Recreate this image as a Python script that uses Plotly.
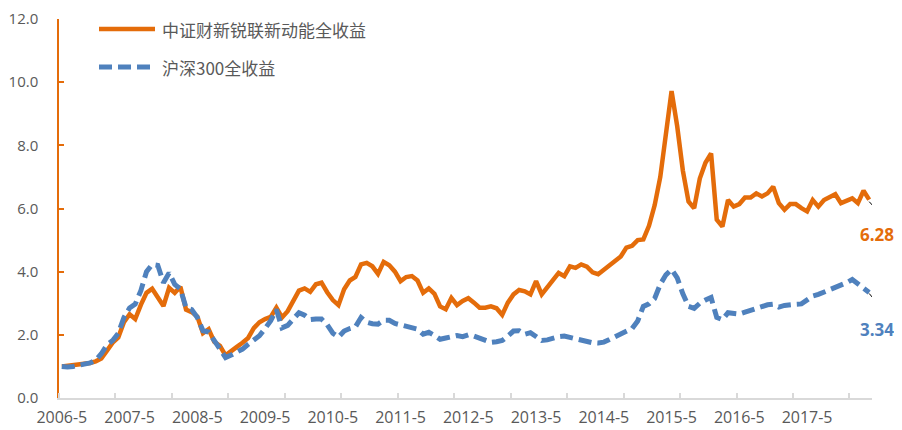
import plotly.graph_objects as go

# ---------------- data ----------------
months = [f"{2006 + (4 + k) // 12}-{(4 + k) % 12 + 1}" for k in range(144)]  # 2006-5 ... 2018-4

tick_labels = ["2006-5", "2007-5", "2008-5", "2009-5", "2010-5", "2011-5",
               "2012-5", "2013-5", "2014-5", "2015-5", "2016-5", "2017-5"]

series_names = ["中证财新锐联新动能全收益", "沪深300全收益"]

new_energy = [
    1.00, 1.02, 1.04, 1.06, 1.08, 1.11, 1.16, 1.25, 1.50, 1.75,
    1.92, 2.40, 2.65, 2.50, 2.95, 3.33, 3.46, 3.20, 2.91, 3.49,
    3.33, 3.52, 2.80, 2.72, 2.58, 2.05, 2.18, 1.78, 1.65, 1.35,
    1.50, 1.62, 1.75, 1.90, 2.21, 2.40, 2.50, 2.57, 2.86, 2.55,
    2.75, 3.05, 3.40, 3.47, 3.36, 3.60, 3.65, 3.35, 3.10, 2.94,
    3.44, 3.72, 3.83, 4.23, 4.28, 4.17, 3.93, 4.31, 4.20, 4.00,
    3.70, 3.83, 3.86, 3.72, 3.33, 3.47, 3.30, 2.90, 2.81, 3.17,
    2.94, 3.07, 3.16, 3.02, 2.86, 2.86, 2.90, 2.84, 2.63, 3.02,
    3.28, 3.42, 3.38, 3.28, 3.70, 3.28, 3.50, 3.72, 3.96, 3.86,
    4.17, 4.12, 4.23, 4.16, 3.98, 3.92, 4.05, 4.20, 4.35, 4.48,
    4.76, 4.82, 5.00, 5.02, 5.45, 6.10, 7.00, 8.50, 9.72, 8.60,
    7.20, 6.22, 6.01, 6.95, 7.45, 7.74, 5.65, 5.43, 6.27, 6.06,
    6.14, 6.35, 6.35, 6.48, 6.38, 6.48, 6.69, 6.17, 5.96, 6.14,
    6.14, 6.01, 5.91, 6.27, 6.06, 6.27, 6.38, 6.45, 6.17, 6.25,
    6.32, 6.17, 6.56, 6.28,
]

csi300 = [
    1.00, 0.98, 1.00, 1.04, 1.07, 1.11, 1.20, 1.40, 1.68, 1.82,
    2.05, 2.55, 2.85, 2.97, 3.40, 4.00, 4.23, 4.20, 3.65, 3.96,
    3.60, 3.45, 2.86, 2.80, 2.55, 2.13, 2.09, 1.80, 1.55, 1.28,
    1.36, 1.45, 1.55, 1.70, 1.86, 1.97, 2.20, 2.45, 2.80, 2.22,
    2.30, 2.49, 2.70, 2.62, 2.48, 2.50, 2.50, 2.32, 2.05, 1.93,
    2.12, 2.20, 2.25, 2.55, 2.40, 2.35, 2.34, 2.46, 2.46, 2.36,
    2.32, 2.28, 2.22, 2.18, 2.02, 2.08, 1.98, 1.86, 1.90, 1.96,
    1.98, 1.94, 2.00, 1.96, 1.88, 1.80, 1.76, 1.78, 1.82, 1.96,
    2.12, 2.13, 2.02, 2.07, 1.95, 1.82, 1.84, 1.90, 1.94, 1.96,
    1.92, 1.85, 1.80, 1.77, 1.75, 1.74, 1.77, 1.85, 1.94, 2.00,
    2.08, 2.20, 2.44, 2.90, 2.98, 3.15, 3.60, 3.90, 4.07, 3.80,
    3.30, 2.90, 2.84, 3.00, 3.10, 3.18, 2.55, 2.48, 2.70, 2.67,
    2.66, 2.72, 2.78, 2.82, 2.88, 2.95, 2.97, 2.88, 2.93, 2.96,
    2.97, 2.98, 3.10, 3.23, 3.28, 3.35, 3.41, 3.50, 3.57, 3.65,
    3.75, 3.62, 3.50, 3.34,
]

y_ticks = [0, 2, 4, 6, 8, 10, 12]

# ---------------- styling ----------------
ORANGE = "#E46C0A"
BLUE = "#4F81BD"
GRAY = "#595959"
BLUE_DASH = "13px,6px"

x_idx = list(range(len(months)))
tick_pos = [months.index(t) for t in tick_labels]
minor_pos = [p - 0.5 for p in range(0, len(months), 10)]
last = len(months) - 1

fig = go.Figure()
fig.add_trace(go.Scatter(x=x_idx, y=new_energy, mode="lines", name=series_names[0],
                         line=dict(color=ORANGE, width=4.5), hoverinfo="x+y"))
fig.add_trace(go.Scatter(x=x_idx, y=csi300, mode="lines", name=series_names[1],
                         line=dict(color=BLUE, width=5, dash=BLUE_DASH)))

# the page body adds an 8px offset; figure sized to fit inside the window
OFF = 8
W, H = 902 - OFF, 430 - OFF
L, T = 59 - OFF, 19 - OFF
PW, PH = 813, 379
R, B = W - L - PW, H - T - PH


def px(xp):
    return (xp - OFF - L) / PW


def py(yp):
    return (T + PH - (yp - OFF)) / PH


shapes = [
    # legend samples
    dict(type="line", xref="paper", yref="paper", x0=px(99), x1=px(155), y0=py(29), y1=py(29),
         line=dict(color=ORANGE, width=4.5)),
    dict(type="line", xref="paper", yref="paper", x0=px(99), x1=px(155), y0=py(67), y1=py(67),
         line=dict(color=BLUE, width=5, dash=BLUE_DASH)),
    # leader lines to end labels
    dict(type="line", xref="x", yref="y", xsizemode="pixel", ysizemode="pixel",
         xanchor=last, yanchor=new_energy[-1], x0=0, x1=12, y0=-2, y1=-15,
         line=dict(color="black", width=1)),
    dict(type="line", xref="x", yref="y", xsizemode="pixel", ysizemode="pixel",
         xanchor=last, yanchor=csi300[-1], x0=0, x1=11, y0=-1, y1=-14,
         line=dict(color="black", width=1)),
]

annotations = [
    dict(xref="paper", yref="paper", x=px(160), y=py(29), xanchor="left", yanchor="middle",
         text=series_names[0], showarrow=False,
         font=dict(size=17, color=GRAY, family="Noto Sans CJK SC")),
    dict(xref="paper", yref="paper", x=px(160), y=py(67), xanchor="left", yanchor="middle",
         text=series_names[1], showarrow=False,
         font=dict(size=17, color=GRAY, family="Noto Sans CJK SC")),
    dict(xref="x", yref="y", x=last, y=new_energy[-1], xshift=8, yshift=-35,
         text=f"<b>{new_energy[-1]:.2f}</b>", showarrow=False,
         font=dict(size=17, color=ORANGE)),
    dict(xref="x", yref="y", x=last, y=csi300[-1], xshift=8, yshift=-37,
         text=f"<b>{csi300[-1]:.2f}</b>", showarrow=False,
         font=dict(size=17, color=BLUE)),
]

fig.update_layout(
    width=W, height=H,
    margin=dict(l=L, r=R, t=T, b=B, autoexpand=False),
    plot_bgcolor="white", paper_bgcolor="white",
    showlegend=False,
    font=dict(family="Open Sans, Noto Sans CJK SC", color=GRAY, size=16),
    shapes=shapes, annotations=annotations,
    xaxis=dict(
        range=[-0.5, last + 0.5], tickmode="array", tickvals=tick_pos, ticktext=tick_labels,
        ticks="", showline=True, linecolor="#D9D9D9", linewidth=1.5,
        showgrid=False, zeroline=False, tickfont=dict(size=16, color=GRAY),
        ticklabelstandoff=4, automargin=False, ticklabeloverflow="allow",
        minor=dict(tickmode="array", tickvals=minor_pos, ticks="inside", ticklen=5,
                   tickcolor="#D9D9D9", tickwidth=1.5, showgrid=False),
    ),
    yaxis=dict(
        range=[0, 12], tickmode="array", tickvals=y_ticks, tickformat=".1f",
        ticks="inside", ticklen=5, tickcolor=ORANGE, tickwidth=1.5,
        showline=True, linecolor=ORANGE, linewidth=1.5,
        showgrid=False, zeroline=False, tickfont=dict(size=15, color=GRAY),
        ticklabelstandoff=16, automargin=False, ticklabeloverflow="allow",
    ),
)

fig.write_html("out.html")
